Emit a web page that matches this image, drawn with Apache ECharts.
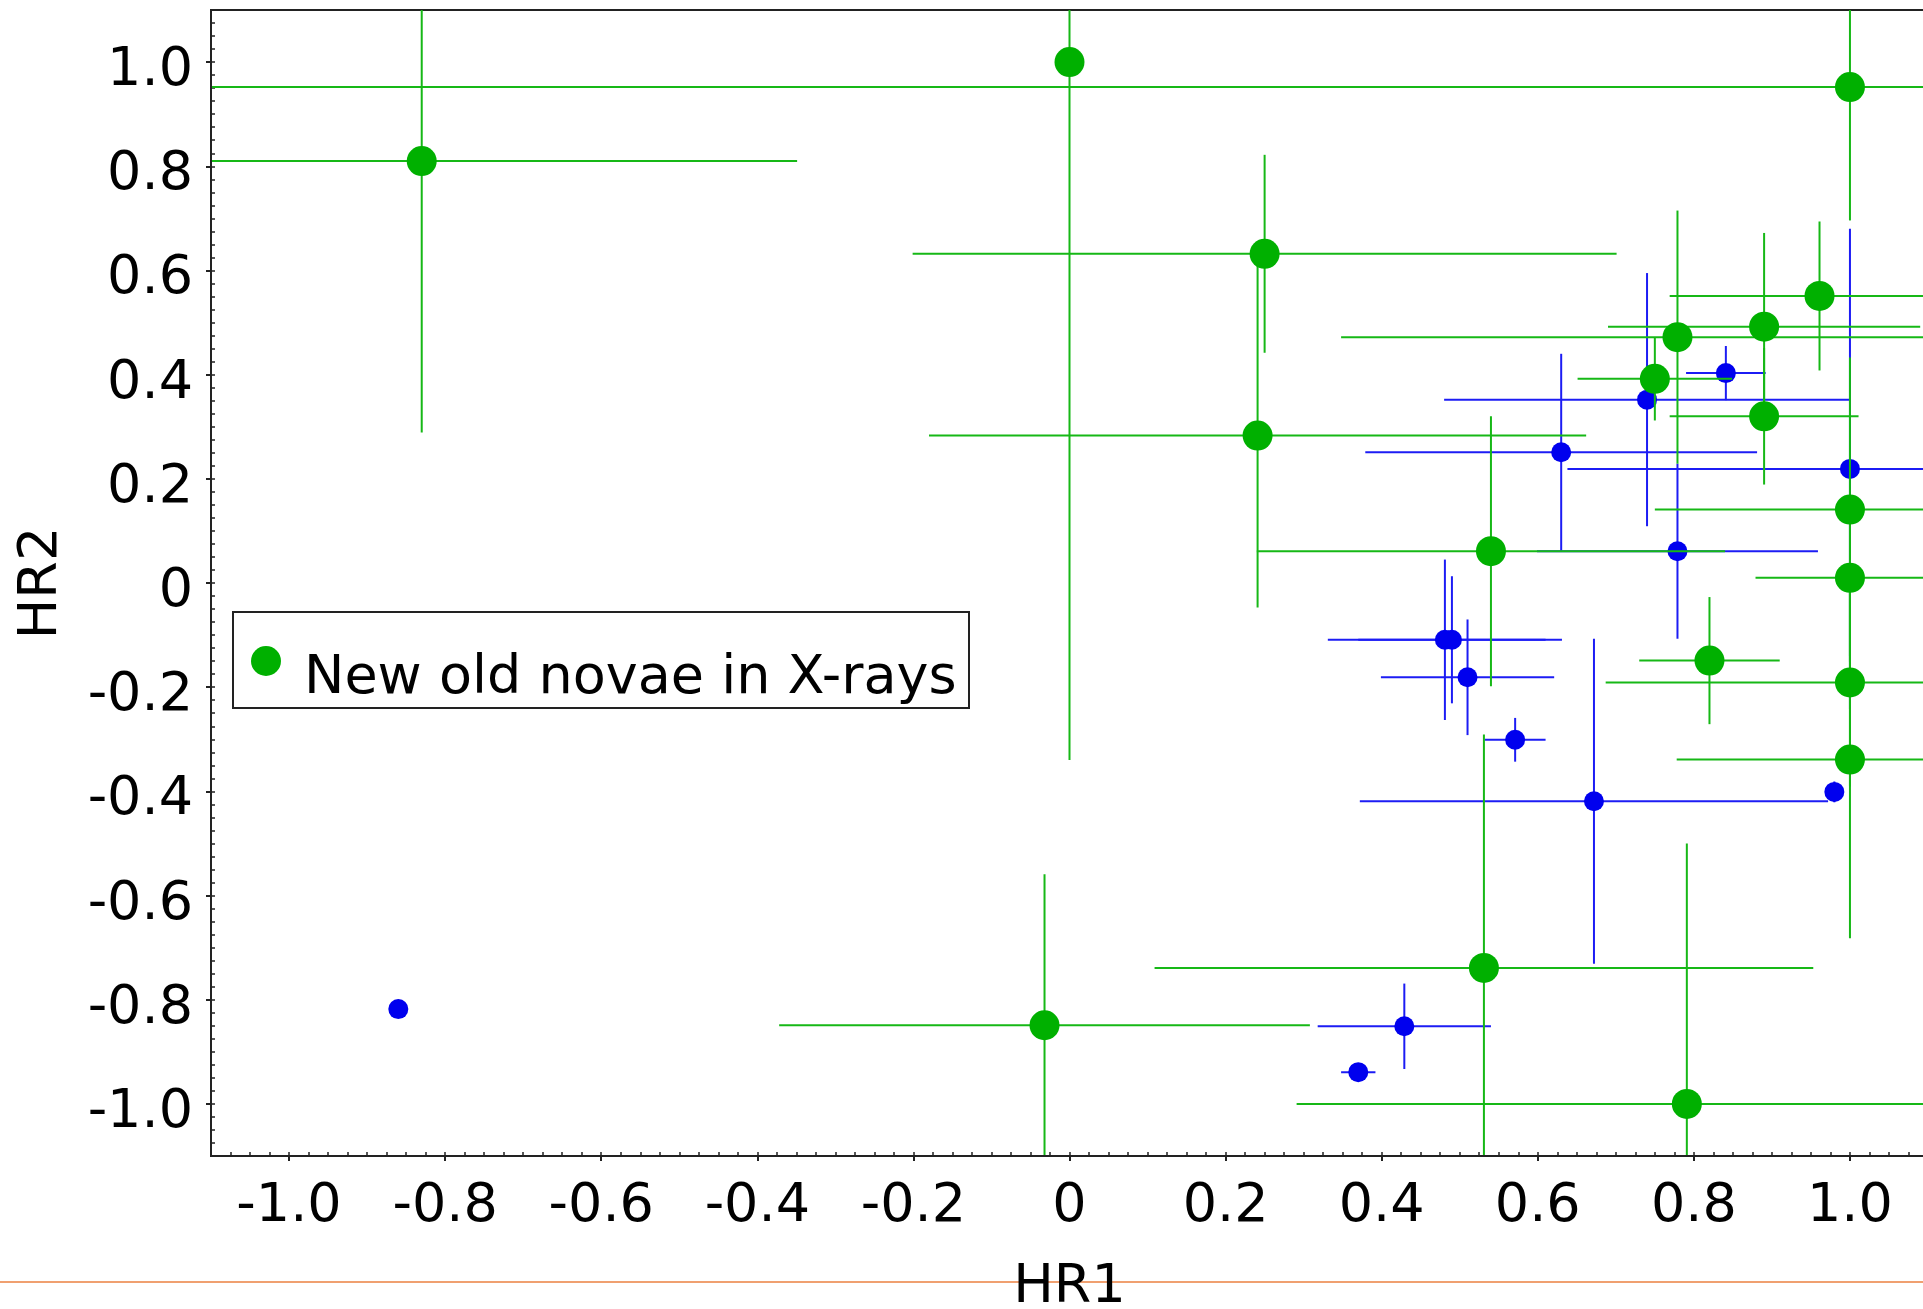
<!DOCTYPE html>
<html>
<head>
<meta charset="utf-8">
<script src="https://cdn.jsdelivr.net/npm/echarts@6/dist/echarts.min.js"></script>
<style>
html,body{margin:0;padding:0;background:#fff;}
#chart{width:1923px;height:1309px;}
</style>
</head>
<body>
<div id="chart"></div>
<script>
// ---- data: [HR1, HR2, HR1 error, HR2 error] ----
const greenName = 'New old novae in X-rays';
const greenHR1  = [-0.83, 0.00, 1.00, 0.250, 0.241, 0.540, 0.779, 0.750, 0.890, 0.890, 0.961, 1.00, 1.00, 1.00, 1.00, 0.820, 0.531, 0.791, -0.032];
const greenHR2  = [0.810, 1.000, 0.952, 0.632, 0.283, 0.061, 0.472, 0.392, 0.492, 0.320, 0.551, 0.141, 0.010, -0.191, -0.339, -0.149, -0.739, -1.000, -0.849];
const greenErr1 = [0.481, 0.000, 2.200, 0.451, 0.421, 0.300, 0.431, 0.099, 0.200, 0.121, 0.192, 0.250, 0.121, 0.313, 0.222, 0.090, 0.422, 0.500, 0.340];
const greenErr2 = [0.521, 1.340, 0.256, 0.190, 0.330, 0.259, 0.243, 0.080, 0.180, 0.131, 0.143, 0.292, 0.150, 0.200, 0.343, 0.122, 0.448, 0.500, 0.290];

const blueHR1  = [-0.860, 0.370, 0.429, 0.672, 0.980, 0.571, 0.510, 0.481, 0.490, 0.630, 0.740, 0.841, 0.779, 1.000];
const blueHR2  = [-0.818, -0.939, -0.851, -0.419, -0.401, -0.301, -0.181, -0.109, -0.109, 0.251, 0.352, 0.403, 0.061, 0.219];
const blueErr1 = [0.000, 0.022, 0.111, 0.300, 0.000, 0.039, 0.111, 0.150, 0.120, 0.251, 0.260, 0.051, 0.180, 0.362];
const blueErr2 = [0.000, 0.000, 0.082, 0.312, 0.020, 0.042, 0.111, 0.154, 0.122, 0.189, 0.243, 0.052, 0.168, 0.461];

// ---- axis ticks ----
const majorTicks = [-1.0, -0.8, -0.6, -0.4, -0.2, 0, 0.2, 0.4, 0.6, 0.8, 1.0];
const tickLabels = ['-1.0', '-0.8', '-0.6', '-0.4', '-0.2', '0', '0.2', '0.4', '0.6', '0.8', '1.0'];
const axisMin = -1.1, axisMax = 1.1;
const minorTicks = [];
for (let i = -43; i <= 43; i++) minorTicks.push(+(i * 0.025).toFixed(4));

const FONT = 'DejaVu Sans';
const GREEN = '#00b000', GREEN_LINE = '#16b816';
const BLUE = '#0000ee', BLUE_LINE = '#1c1cf4';

function rows(a, b, c, d) { return a.map((v, i) => [v, b[i], c[i], d[i]]); }
const greenRows = rows(greenHR1, greenHR2, greenErr1, greenErr2);
const blueRows  = rows(blueHR1, blueHR2, blueErr1, blueErr2);

function clamp(v) { return Math.max(axisMin, Math.min(axisMax, v)); }
function errRenderer(color) {
  return function (params, api) {
    const x = api.value(0), y = api.value(1), ex = api.value(2), ey = api.value(3);
    const children = [];
    if (ex > 0) {
      const p1 = api.coord([clamp(x - ex), y]), p2 = api.coord([clamp(x + ex), y]);
      children.push({type: 'line', shape: {x1: p1[0], y1: p1[1], x2: p2[0], y2: p2[1]}, style: {stroke: color, lineWidth: 2}});
    }
    if (ey > 0) {
      const p1 = api.coord([x, clamp(y - ey)]), p2 = api.coord([x, clamp(y + ey)]);
      children.push({type: 'line', shape: {x1: p1[0], y1: p1[1], x2: p2[0], y2: p2[1]}, style: {stroke: color, lineWidth: 2}});
    }
    return {type: 'group', children: children};
  };
}
function fmt(v) {
  const i = majorTicks.findIndex(t => Math.abs(t - v) < 1e-6);
  return i >= 0 ? tickLabels[i] : '';
}

const labelStyle = {fontSize: 54, fontFamily: FONT, color: '#000'};
const nameStyle = {fontSize: 54, fontFamily: FONT, color: '#000'};

const chart = echarts.init(document.getElementById('chart'), null, {renderer: 'canvas'});
chart.setOption({
  animation: false,
  backgroundColor: '#fff',
  grid: {left: 211, top: 10, right: -5, bottom: 153, outerBoundsMode: 'none', containLabel: false,
         show: true, borderColor: '#222', borderWidth: 2, backgroundColor: 'transparent'},
  xAxis: [
    {
      type: 'value', min: axisMin, max: axisMax, position: 'bottom', z: 10,
      name: 'HR1', nameLocation: 'middle', nameGap: 105, nameTextStyle: nameStyle,
      axisLine: {show: true, onZero: false, lineStyle: {color: '#222', width: 2}},
      axisTick: {show: true, inside: false, length: 5, customValues: majorTicks, lineStyle: {color: '#222', width: 2}},
      axisLabel: Object.assign({show: true, margin: 24, customValues: majorTicks, formatter: fmt}, labelStyle),
      splitLine: {show: false}
    },
    {
      type: 'value', min: axisMin, max: axisMax, position: 'bottom',
      axisLine: {show: false, onZero: false},
      axisTick: {show: true, inside: true, length: 4, customValues: minorTicks, lineStyle: {color: '#222', width: 1.5}},
      axisLabel: {show: false},
      splitLine: {show: false}
    }
  ],
  yAxis: [
    {
      type: 'value', min: axisMin, max: axisMax, position: 'left', z: 10,
      name: 'HR2', nameLocation: 'middle', nameGap: 142, nameRotate: 90, nameTextStyle: nameStyle,
      axisLine: {show: true, onZero: false, lineStyle: {color: '#222', width: 2}},
      axisTick: {show: true, inside: false, length: 5, customValues: majorTicks, lineStyle: {color: '#222', width: 2}},
      axisLabel: Object.assign({show: true, margin: 18, verticalAlign: 'top', lineHeight: 18, customValues: majorTicks, formatter: fmt}, labelStyle),
      splitLine: {show: false}
    },
    {
      type: 'value', min: axisMin, max: axisMax, position: 'left',
      axisLine: {show: false, onZero: false},
      axisTick: {show: true, inside: true, length: 4, customValues: minorTicks, lineStyle: {color: '#222', width: 1.5}},
      axisLabel: {show: false},
      splitLine: {show: false}
    }
  ],
  graphic: [
    {type: 'line', z: -100, shape: {x1: 0, y1: 1282, x2: 1923, y2: 1282}, style: {stroke: '#f0a070', lineWidth: 2}},
    {type: 'group', z: 100, children: [
      {type: 'rect', shape: {x: 233, y: 612, width: 736, height: 96}, style: {fill: '#fff', stroke: '#222', lineWidth: 2}},
      {type: 'circle', shape: {cx: 266, cy: 661, r: 15}, style: {fill: GREEN}},
      {type: 'text', x: 304, y: 679, style: {text: greenName, font: '54px "DejaVu Sans"', fill: '#000', verticalAlign: 'middle', align: 'left'}}
    ]}
  ],
  series: [
    {type: 'custom', name: 'blueErr', renderItem: errRenderer(BLUE_LINE), data: blueRows, encode: {x: 0, y: 1}, z: 2, silent: true},
    {type: 'scatter', name: 'blue', data: blueRows, encode: {x: 0, y: 1}, symbol: 'circle', symbolSize: 20, itemStyle: {color: BLUE, opacity: 1}, z: 3},
    {type: 'custom', name: 'greenErr', renderItem: errRenderer(GREEN_LINE), data: greenRows, encode: {x: 0, y: 1}, z: 4, silent: true},
    {type: 'scatter', name: greenName, data: greenRows, encode: {x: 0, y: 1}, symbol: 'circle', symbolSize: 30, itemStyle: {color: GREEN, opacity: 1}, z: 5}
  ]
});
</script>
</body>
</html>
